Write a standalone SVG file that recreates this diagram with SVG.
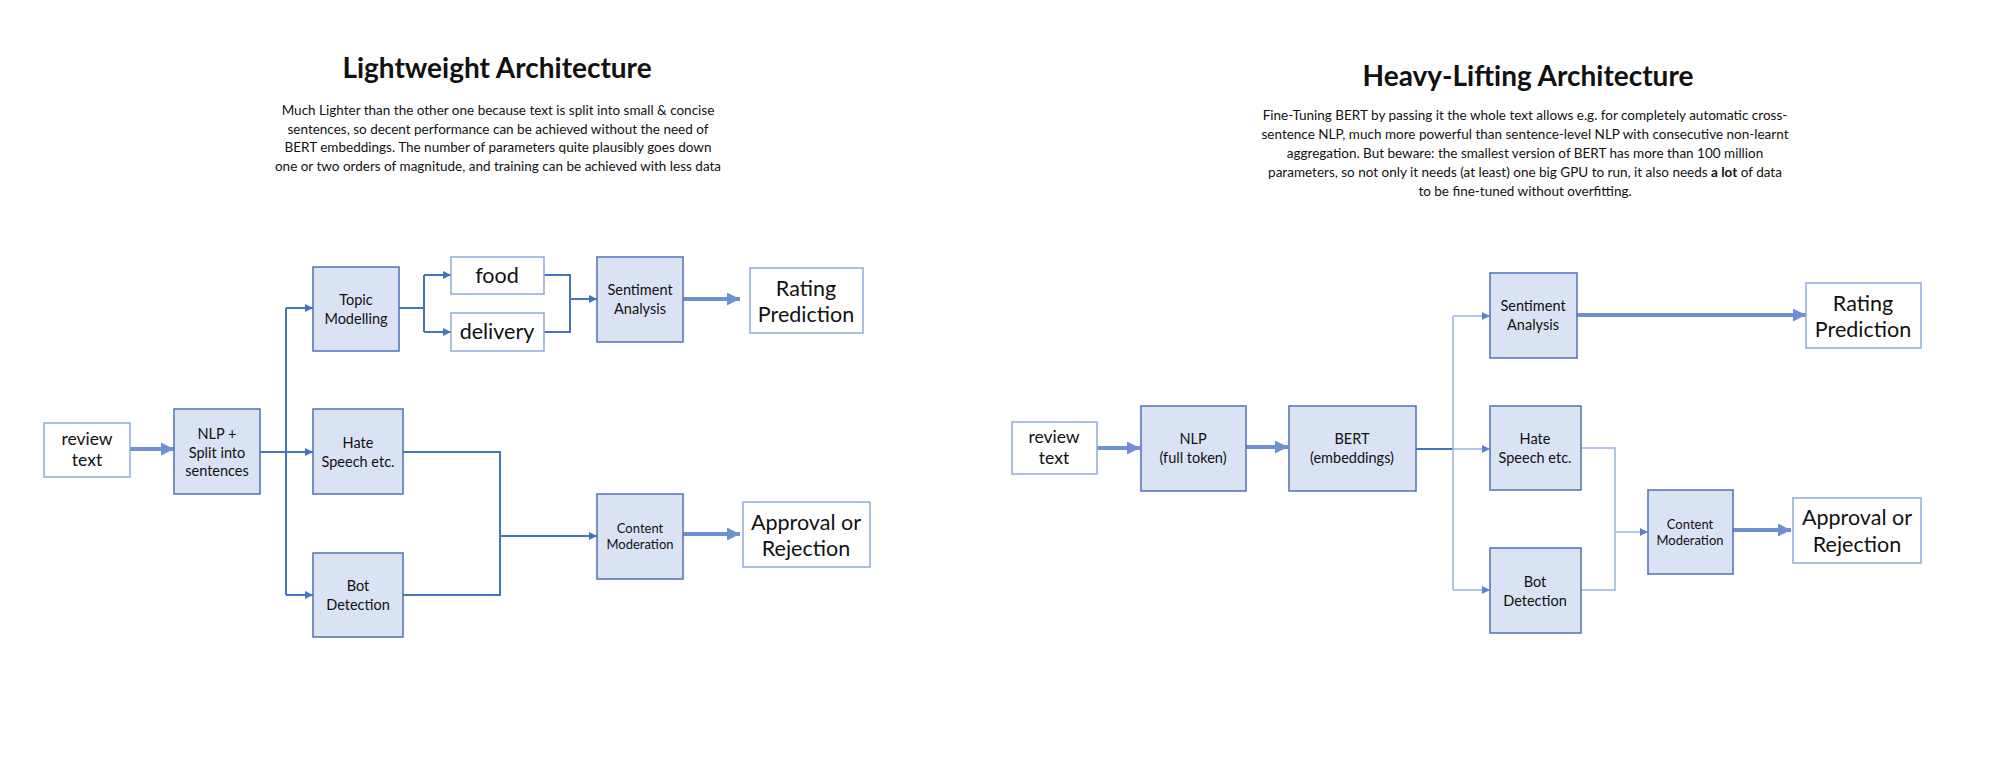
<svg xmlns="http://www.w3.org/2000/svg" width="2000" height="784" viewBox="0 0 2000 784">
<style>
text{font-family:Lato,"Open Sans","Liberation Sans",sans-serif;fill:#111;text-anchor:middle}
.title{font-size:28px;font-weight:bold}
.para{font-size:13.5px}
.f{fill:#DAE3F3;stroke:#4F72B8;stroke-width:1.5}
.w{fill:#fff;stroke:#8FAADC;stroke-width:1.5}
.t15{font-size:14.5px}
.t13{font-size:13px}
.t18{font-size:17.5px}
.t22{font-size:21.5px}
.c{fill:none;stroke:#4472C4;stroke-width:2}
.cl{fill:none;stroke:#9AB2E0;stroke-width:1.5}
.thick{fill:none;stroke:#6E90D5;stroke-width:4}
</style>
<defs>
<marker id="ah" markerUnits="userSpaceOnUse" markerWidth="8" markerHeight="8" refX="8" refY="4" orient="auto"><path d="M0,0L8,4L0,8z" fill="#4472C4"/></marker>
<marker id="ahl" markerUnits="userSpaceOnUse" markerWidth="8" markerHeight="8" refX="8" refY="4" orient="auto"><path d="M0,0L8,4L0,8z" fill="#5E82CC"/></marker>
<marker id="ahb" markerUnits="userSpaceOnUse" markerWidth="13" markerHeight="13" refX="13" refY="6.5" orient="auto"><path d="M0,0L13,6.5L0,13z" fill="#6E90D5"/></marker>
</defs>
<rect width="2000" height="784" fill="#fff"/>

<g id="header-left">
<text class="title" x="497" y="78">Lightweight Architecture</text>
<text class="para" x="498" y="115">Much Lighter than the other one because text is split into small &amp; concise</text>
<text class="para" x="498" y="134">sentences, so decent performance can be achieved without the need of</text>
<text class="para" x="498" y="152">BERT embeddings. The number of parameters quite plausibly goes down</text>
<text class="para" x="498" y="171">one or two orders of magnitude, and training can be achieved with less data</text>
</g>
<g id="header-right">
<text class="title" x="1528" y="86">Heavy-Lifting Architecture</text>
<text class="para" x="1525" y="120">Fine-Tuning BERT by passing it the whole text allows e.g. for completely automatic cross-</text>
<text class="para" x="1525" y="139">sentence NLP, much more powerful than sentence-level NLP with consecutive non-learnt</text>
<text class="para" x="1525" y="158">aggregation. But beware: the smallest version of BERT has more than 100 million</text>
<text class="para" x="1525" y="177">parameters, so not only it needs (at least) one big GPU to run, it also needs <tspan font-weight="bold">a lot</tspan> of data</text>
<text class="para" x="1525" y="196">to be fine-tuned without overfitting.</text>
</g>

<g id="connectors">
<path class="thick" d="M130,449H174" marker-end="url(#ahb)"/>
<path class="c" d="M260,452H286M286,308V595"/>
<path class="c" d="M286,308H313" marker-end="url(#ah)"/>
<path class="c" d="M286,452H313" marker-end="url(#ah)"/>
<path class="c" d="M286,595H313" marker-end="url(#ah)"/>
<path class="c" d="M399,308H424M424,275V332"/>
<path class="c" d="M424,275H451" marker-end="url(#ah)"/>
<path class="c" d="M424,332H451" marker-end="url(#ah)"/>
<path class="c" d="M544,275H570V332H544"/>
<path class="c" d="M570,299H597" marker-end="url(#ah)"/>
<path class="thick" d="M683,299H740" marker-end="url(#ahb)"/>
<path class="c" d="M403,452H500V595H403"/>
<path class="c" d="M500,536H597" marker-end="url(#ah)"/>
<path class="thick" d="M683,534H740" marker-end="url(#ahb)"/>

<path class="thick" d="M1097,448H1140" marker-end="url(#ahb)"/>
<path class="thick" d="M1246,447H1288" marker-end="url(#ahb)"/>
<path class="c" d="M1416,449H1453"/>
<path class="cl" d="M1453,316V590"/>
<path class="cl" d="M1453,316H1490" marker-end="url(#ahl)"/>
<path class="cl" d="M1453,449H1490" marker-end="url(#ahl)"/>
<path class="cl" d="M1453,590H1490" marker-end="url(#ahl)"/>
<path class="thick" d="M1577,315H1806" marker-end="url(#ahb)"/>
<path class="cl" d="M1581,448H1615V590H1581"/>
<path class="cl" d="M1615,532H1648" marker-end="url(#ahl)"/>
<path class="thick" d="M1733,530H1791" marker-end="url(#ahb)"/>
</g>

<g id="l-review"><rect class="w" x="44" y="423" width="86" height="54"/><text class="t18" x="87" y="445">review</text><text class="t18" x="87" y="466">text</text></g>
<g id="l-nlp"><rect class="f" x="174" y="409" width="86" height="85"/><text class="t15" x="217" y="439">NLP +</text><text class="t15" x="217" y="458">Split into</text><text class="t15" x="217" y="476">sentences</text></g>
<g id="l-topic"><rect class="f" x="313" y="267" width="86" height="84"/><text class="t15" x="356" y="305">Topic</text><text class="t15" x="356" y="324">Modelling</text></g>
<g id="l-hate"><rect class="f" x="313" y="409" width="90" height="85"/><text class="t15" x="358" y="448">Hate</text><text class="t15" x="358" y="467">Speech etc.</text></g>
<g id="l-bot"><rect class="f" x="313" y="553" width="90" height="84"/><text class="t15" x="358" y="591">Bot</text><text class="t15" x="358" y="610">Detection</text></g>
<g id="l-food"><rect class="w" x="451" y="257" width="93" height="37"/><text class="t22" x="497" y="283">food</text></g>
<g id="l-delivery"><rect class="w" x="451" y="313" width="93" height="38"/><text class="t22" x="497" y="339">delivery</text></g>
<g id="l-sentiment"><rect class="f" x="597" y="257" width="86" height="85"/><text class="t15" x="640" y="295">Sentiment</text><text class="t15" x="640" y="314">Analysis</text></g>
<g id="l-rating"><rect class="w" x="750" y="268" width="113" height="65"/><text class="t22" x="806" y="296">Rating</text><text class="t22" x="806" y="322">Prediction</text></g>
<g id="l-content"><rect class="f" x="597" y="494" width="86" height="85"/><text class="t13" x="640" y="533">Content</text><text class="t13" x="640" y="549">Moderation</text></g>
<g id="l-approval"><rect class="w" x="743" y="502" width="127" height="65"/><text class="t22" x="806" y="530">Approval or</text><text class="t22" x="806" y="556">Rejection</text></g>

<g id="r-review"><rect class="w" x="1012" y="422" width="85" height="52"/><text class="t18" x="1054" y="443">review</text><text class="t18" x="1054" y="464">text</text></g>
<g id="r-nlp"><rect class="f" x="1141" y="406" width="105" height="85"/><text class="t15" x="1193" y="444">NLP</text><text class="t15" x="1193" y="463">(full token)</text></g>
<g id="r-bert"><rect class="f" x="1289" y="406" width="127" height="85"/><text class="t15" x="1352" y="444">BERT</text><text class="t15" x="1352" y="463">(embeddings)</text></g>
<g id="r-sentiment"><rect class="f" x="1490" y="273" width="87" height="85"/><text class="t15" x="1533" y="311">Sentiment</text><text class="t15" x="1533" y="330">Analysis</text></g>
<g id="r-hate"><rect class="f" x="1490" y="406" width="91" height="84"/><text class="t15" x="1535" y="444">Hate</text><text class="t15" x="1535" y="463">Speech etc.</text></g>
<g id="r-bot"><rect class="f" x="1490" y="548" width="91" height="85"/><text class="t15" x="1535" y="587">Bot</text><text class="t15" x="1535" y="606">Detection</text></g>
<g id="r-content"><rect class="f" x="1648" y="490" width="85" height="84"/><text class="t13" x="1690" y="529">Content</text><text class="t13" x="1690" y="545">Moderation</text></g>
<g id="r-rating"><rect class="w" x="1806" y="283" width="115" height="65"/><text class="t22" x="1863" y="311">Rating</text><text class="t22" x="1863" y="337">Prediction</text></g>
<g id="r-approval"><rect class="w" x="1793" y="498" width="128" height="65"/><text class="t22" x="1857" y="525">Approval or</text><text class="t22" x="1857" y="552">Rejection</text></g>
</svg>
